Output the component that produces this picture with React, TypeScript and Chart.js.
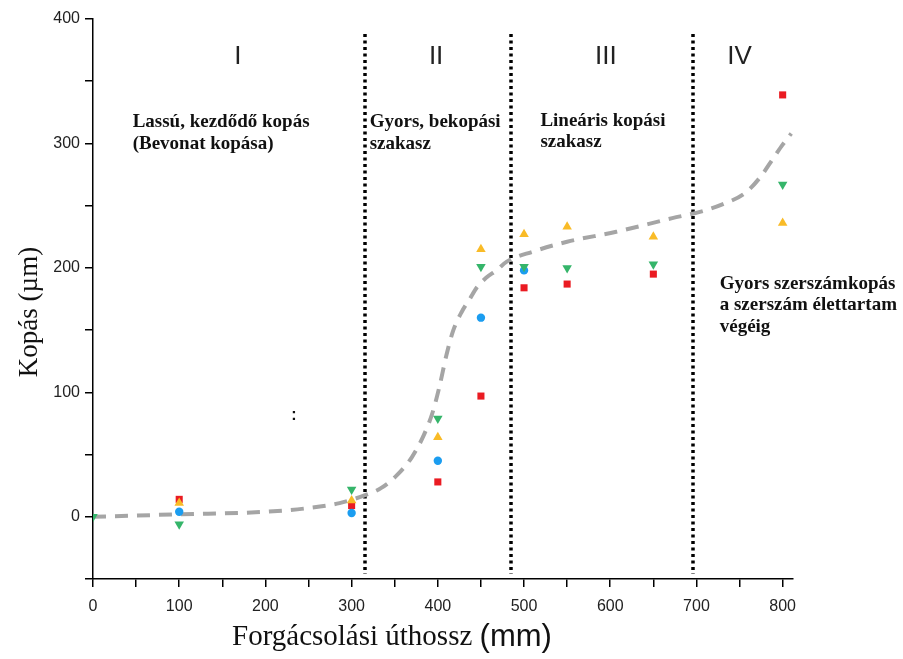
import React, { useEffect, useRef } from 'react';
import { Chart, registerables } from 'chart.js';

Chart.register(...registerables);

// Cutting distance (mm) where measurements were taken
const distances = [0, 100, 300, 400, 450, 500, 550, 650, 800];
// Wear (µm) for each measured series
const greenSeries = [0, -6, 22, 79, 201, 201, 200, 203, 267];
const blueSeries = [null, 4, 3, 45, 160, 198, null, null, null];
const orangeSeries = [null, 11, 13, 64, 215, 227, 233, 225, 236];
const redSeries = [null, 14, 9, 28, 97, 184, 187, 195, 339];

// Trend (dashed) curve
const trendX = [0, 100, 200, 250, 286, 318, 334, 352, 370, 384, 394, 402, 410, 418, 428, 437, 445, 456, 468, 480, 510, 550, 607, 672, 704, 730, 756, 773, 790, 800, 810];
const trendY = [0, 2, 4, 7, 11, 18, 23, 33, 48, 66, 84, 105, 130, 150, 165, 175, 184, 192, 198, 205, 213, 221, 229, 240, 245, 251, 260, 272, 289, 299, 308];

// Axis ticks (every 50, labelled every 100)
const xTickValues = [0, 50, 100, 150, 200, 250, 300, 350, 400, 450, 500, 550, 600, 650, 700, 750, 800];
const yTickValues = [-50, 0, 50, 100, 150, 200, 250, 300, 350, 400];

// Stage boundaries (mm) and stage labels
const stageBounds = [316, 485, 696];
const stageLabels = ['I', 'II', 'III', 'IV'];
const stageLabelX = [168, 398, 595, 750];
const stageLabelY = [370, 370, 370, 370];

// Annotation texts: anchor x (mm), first line y (µm)
const noteLines = [
  ['Lassú, kezdődő kopás', '(Bevonat kopása)'],
  ['Gyors, bekopási', 'szakasz'],
  ['Lineáris kopási', 'szakasz'],
  ['Gyors szerszámkopás', 'a szerszám élettartam', 'végéig'],
];
const noteX = [46, 321, 519, 727];
const noteY = [317, 317, 318, 187];

const xTitle = 'Forgácsolási úthossz';
const xTitleUnit = '(mm)';
const yTitle = 'Kopás (µm)';

const xMin = 0;
const xMax = 812;
const yMin = -50;
const yMax = 400;

const toPoints = (ys: (number | null)[]) =>
  distances.map((x, i) => ({ x, y: ys[i] as number })).filter((p) => p.y !== null);

export default function App() {
  const ref = useRef<HTMLCanvasElement | null>(null);

  useEffect(() => {
    document.body.style.margin = '0';
    const canvas = ref.current;
    if (!canvas) return;

    const annotations = {
      id: 'annotations',
      beforeDatasetsDraw(chart: any) {
        const { ctx, scales } = chart;
        const xs = scales.x;
        const ys = scales.y;
        ctx.save();
        // dotted stage boundaries
        ctx.strokeStyle = '#000';
        ctx.lineWidth = 3.5;
        ctx.setLineDash([3, 3.5]);
        stageBounds.forEach((b) => {
          const px = Math.round(xs.getPixelForValue(b));
          ctx.beginPath();
          ctx.moveTo(px, ys.getPixelForValue(388));
          ctx.lineTo(px, ys.getPixelForValue(-46));
          ctx.stroke();
        });
        ctx.setLineDash([]);
        // stage labels
        ctx.fillStyle = '#222';
        ctx.font = '26px "Liberation Sans", Arial, sans-serif';
        ctx.textAlign = 'center';
        ctx.textBaseline = 'middle';
        stageLabels.forEach((t, i) => {
          ctx.fillText(t, xs.getPixelForValue(stageLabelX[i]), ys.getPixelForValue(stageLabelY[i]));
        });
        // notes
        ctx.fillStyle = '#111';
        ctx.font = 'bold 19px "Liberation Serif", "Times New Roman", serif';
        ctx.textAlign = 'left';
        noteLines.forEach((lines, i) => {
          const px = xs.getPixelForValue(noteX[i]);
          const py = ys.getPixelForValue(noteY[i]);
          lines.forEach((l, j) => ctx.fillText(l, px, py + j * 21.5));
        });
        // stray colon mark
        ctx.font = 'bold 16px "Liberation Sans", sans-serif';
        ctx.textAlign = 'center';
        ctx.fillText(':', xs.getPixelForValue(233), ys.getPixelForValue(81));
        ctx.restore();
      },
      afterDraw(chart: any) {
        const { ctx } = chart;
        ctx.save();
        ctx.fillStyle = '#111';
        ctx.textBaseline = 'middle';
        // x title (serif text + sans unit)
        const startX = 232;
        const cy = 637;
        ctx.textAlign = 'left';
        ctx.font = '29px "Liberation Serif", "Times New Roman", serif';
        const w1 = ctx.measureText(xTitle + ' ').width;
        ctx.fillText(xTitle + ' ', startX, cy);
        ctx.font = '31px "Liberation Sans", Arial, sans-serif';
        ctx.fillText(xTitleUnit, startX + w1, cy);
        // y title
        ctx.translate(30, 312);
        ctx.rotate(-Math.PI / 2);
        ctx.textAlign = 'center';
        ctx.font = '27px "Liberation Serif", "Times New Roman", serif';
        ctx.fillText(yTitle, 0, 0);
        ctx.restore();
      },
    };

    const chart = new Chart(canvas, {
      type: 'scatter',
      data: {
        datasets: [
          {
            label: 'green',
            data: toPoints(greenSeries),
            pointStyle: 'triangle',
            rotation: 180,
            pointRadius: 5.5,
            backgroundColor: '#35b56a',
            borderColor: '#35b56a',
            borderWidth: 0,
          },
          {
            label: 'blue',
            data: toPoints(blueSeries),
            pointStyle: 'circle',
            pointRadius: 4.2,
            backgroundColor: '#1b9df0',
            borderColor: '#1b9df0',
            borderWidth: 0,
          },
          {
            label: 'orange',
            data: toPoints(orangeSeries),
            pointStyle: 'triangle',
            pointRadius: 5.5,
            backgroundColor: '#f9bb27',
            borderColor: '#f9bb27',
            borderWidth: 0,
          },
          {
            label: 'red',
            data: toPoints(redSeries),
            pointStyle: 'rect',
            pointRadius: 5,
            backgroundColor: '#ea1b22',
            borderColor: '#ea1b22',
            borderWidth: 0,
          },
          {
            label: 'trend',
            data: trendX.map((x, i) => ({ x, y: trendY[i] })),
            showLine: true,
            pointRadius: 0,
            borderColor: '#a5a5a5',
            borderWidth: 4,
            borderDash: [13, 9],
            cubicInterpolationMode: 'monotone',
            fill: false,
          } as any,
        ],
      },
      options: {
        animation: false,
        responsive: false,
        maintainAspectRatio: false,
        layout: { padding: { left: 0, top: 19, right: 110, bottom: 40 } },
        plugins: {
          legend: { display: false },
          tooltip: { enabled: false },
        },
        scales: {
          x: {
            type: 'linear',
            min: xMin,
            max: xMax,
            afterFit: (s: any) => {
              s.height = 40;
            },
            afterBuildTicks: (s: any) => {
              s.ticks = xTickValues.map((value) => ({ value }));
            },
            border: { display: true, color: '#000', width: 1.5 },
            grid: { display: true, drawOnChartArea: false, drawTicks: true, tickLength: 8, color: '#000', lineWidth: 1.5 },
            ticks: {
              padding: 10,
              color: '#222',
              font: { family: '"Liberation Sans", Arial, sans-serif', size: 16 },
              maxRotation: 0,
              autoSkip: false,
              callback: (v: any) => (Number(v) % 100 === 0 ? String(v) : ''),
            },
          },
          y: {
            type: 'linear',
            min: yMin,
            max: yMax,
            afterFit: (s: any) => {
              s.width = 93;
            },
            afterBuildTicks: (s: any) => {
              s.ticks = yTickValues.map((value) => ({ value }));
            },
            border: { display: true, color: '#000', width: 1.5 },
            grid: { display: true, drawOnChartArea: false, drawTicks: true, tickLength: 8, color: '#000', lineWidth: 1.5 },
            ticks: {
              padding: 5,
              color: '#222',
              font: { family: '"Liberation Sans", Arial, sans-serif', size: 16 },
              autoSkip: false,
              callback: (v: any) => (Number(v) % 100 === 0 ? String(v) : ''),
            },
          },
        },
      },
      plugins: [annotations],
    });

    return () => chart.destroy();
  }, []);

  return (
    <div style={{ width: 903, height: 659 }}>
      <canvas ref={ref} width={903} height={659} style={{ display: 'block', width: 903, height: 659 }} />
    </div>
  );
}
